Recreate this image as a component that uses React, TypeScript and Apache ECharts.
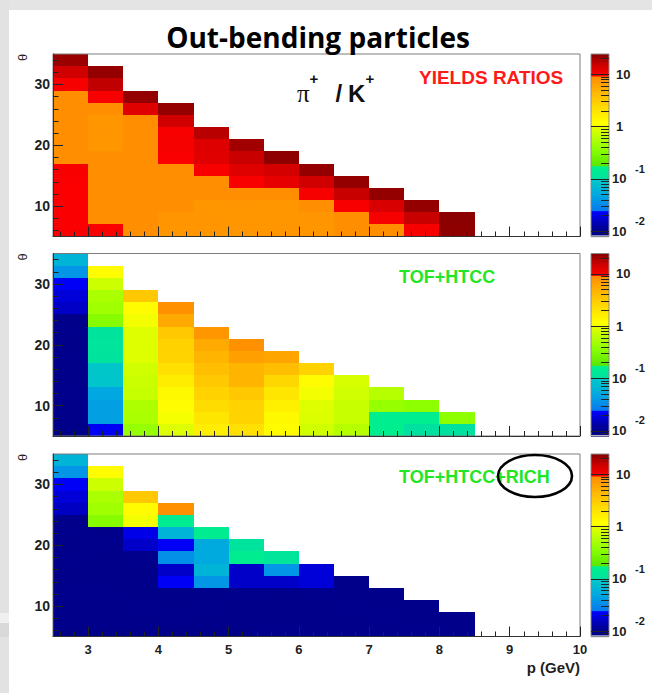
import React, { useEffect, useRef } from 'react';
import * as echarts from 'echarts';

// Binning of the (p, theta) histograms
const P_LOW = 2.5;
const P_HIGH = 10;
const P_BIN = 0.5;
const THETA_LOW = 5;
const THETA_HIGH = 35;
const THETA_BIN = 2;

// Axis tick positions
const P_LABELS = [3, 4, 5, 6, 7, 8, 9, 10];
const THETA_LABELS = [10, 20, 30];
const THETA_MINOR = [6, 8, 12, 14, 16, 18, 22, 24, 26, 28, 32, 34];
const Z_DECADES = [-2, -1, 0, 1];
const Z_PLAIN_LABELS = [0, 1];
const Z_POWER_LABELS = [-2, -1];

// log10 range of the colour (z) scale
const Z_LOG_MIN = -2.1;
const Z_LOG_MAX = 1.39;

// One inner array per momentum column (2.5-3, 3-3.5, ... 8-8.5 GeV),
// values listed from the lowest theta bin (5-7 deg) upward.
const yieldRatio = [
  [9.8, 9.9, 9.8, 9.7, 9.9, 10.0, 9.1, 9.2, 9.1, 9.1, 9.2, 9.1, 10.2, 15, 22],
  [9.9, 9.1, 9.2, 9.1, 9.1, 9.2, 9.1, 8.0, 8.1, 8.0, 9.1, 10.1, 17, 23],
  [9.1, 9.2, 9.1, 9.1, 9.2, 9.1, 9.2, 9.1, 9.1, 9.2, 13, 23],
  [8.0, 8.1, 9.1, 9.2, 9.1, 9.1, 9.9, 10.2, 10.0, 15, 23],
  [8.0, 8.1, 8.0, 9.1, 9.2, 10.0, 12.8, 13.2, 18],
  [8.0, 8.0, 8.1, 9.1, 10.1, 13, 16, 21],
  [8.1, 8.0, 8.0, 9.1, 12.2, 14.5, 24],
  [8.0, 8.1, 9.1, 10.2, 15, 23],
  [9.1, 9.2, 10.1, 16, 23],
  [9.1, 10.2, 14, 23],
  [10.3, 16, 23],
  [24, 24.5],
];

const tofHtcc = [
  [0.0092, 0.0095, 0.0094, 0.0096, 0.0093, 0.0095, 0.0097, 0.0094, 0.0096, 0.0095, 0.0166, 0.0188, 0.0235, 0.039, 0.065],
  [0.0235, 0.044, 0.045, 0.05, 0.094, 0.097, 0.113, 0.115, 0.114, 0.35, 0.47, 0.53, 0.78, 1.3],
  [0.42, 0.53, 0.55, 0.72, 0.76, 0.8, 0.94, 0.95, 0.95, 1.02, 1.3, 3.4],
  [0.95, 1.05, 1.3, 1.35, 1.7, 2.2, 2.8, 2.85, 3.4, 5.8, 8.8],
  [1.67, 1.95, 2.37, 2.85, 3.4, 4.1, 4.9, 5.8, 8.0],
  [2.2, 2.8, 2.85, 3.4, 4.8, 4.9, 6.8, 8.8],
  [1.3, 1.35, 1.6, 1.95, 2.6, 4.1, 6.3],
  [0.8, 0.93, 0.95, 1.02, 1.3, 2.85],
  [0.6, 0.74, 0.75, 0.8, 0.9],
  [0.17, 0.165, 0.42, 0.6],
  [0.103, 0.165, 0.38],
  [0.103, 0.38],
];

const tofHtccRich = [
  [0.0093, 0.0095, 0.0094, 0.0096, 0.0093, 0.0095, 0.0097, 0.0094, 0.0096, 0.0095, 0.0162, 0.0186, 0.0235, 0.039, 0.065],
  [0.0094, 0.0095, 0.0093, 0.0096, 0.0094, 0.0095, 0.0093, 0.0096, 0.0094, 0.35, 0.47, 0.53, 0.78, 1.3],
  [0.0095, 0.0094, 0.0096, 0.0093, 0.0095, 0.0094, 0.0096, 0.0168, 0.021, 1.02, 1.3, 3.4],
  [0.0094, 0.0096, 0.0095, 0.0093, 0.0235, 0.0168, 0.0355, 0.0235, 0.065, 0.155, 8.8],
  [0.0095, 0.0093, 0.0096, 0.0094, 0.0387, 0.065, 0.052, 0.052, 0.155],
  [0.0094, 0.0095, 0.0093, 0.0096, 0.0168, 0.0168, 0.155, 0.113],
  [0.0096, 0.0094, 0.0095, 0.0093, 0.0168, 0.0387, 0.12],
  [0.0093, 0.0095, 0.0094, 0.0096, 0.0188, 0.0188],
  [0.0095, 0.0094, 0.0096, 0.0093, 0.0095],
  [0.0094, 0.0096, 0.0093, 0.0095],
  [0.0096, 0.0094, 0.0095],
  [0.0095, 0.0094],
];

const PANELS = [yieldRatio, tofHtcc, tofHtccRich];

// Palette: piecewise gradients with jumps, position 0..1 along the z scale
const PALETTE_STOPS: [number, string][] = [
  [0.0, '#00007c'],
  [0.004, '#00007c'],
  [0.004, '#eef0ff'],
  [0.01, '#eef0ff'],
  [0.01, '#000084'],
  [0.06, '#0000a0'],
  [0.1, '#0000d0'],
  [0.142, '#0000ff'],
  [0.142, '#0a78f0'],
  [0.23, '#00a8e0'],
  [0.316, '#00c8c8'],
  [0.316, '#00e0a0'],
  [0.389, '#00f08c'],
  [0.389, '#5ae600'],
  [0.48, '#8cff00'],
  [0.599, '#e0ff00'],
  [0.599, '#f0ff00'],
  [0.625, '#ffff00'],
  [0.7, '#ffe000'],
  [0.8, '#ffb400'],
  [0.881, '#ff8c00'],
  [0.881, '#ff0000'],
  [0.94, '#d00000'],
  [1.0, '#8b0000'],
];

function hexToRgb(h: string): number[] {
  return [1, 3, 5].map((i) => parseInt(h.slice(i, i + 2), 16));
}

function paletteAt(t: number): string {
  for (let i = 0; i < PALETTE_STOPS.length - 1; i++) {
    const [t0, c0] = PALETTE_STOPS[i];
    const [t1, c1] = PALETTE_STOPS[i + 1];
    if (t1 > t0 && t >= t0 && t <= t1) {
      const f = (t - t0) / (t1 - t0);
      const a = hexToRgb(c0);
      const b = hexToRgb(c1);
      const rgb = a.map((v, k) => Math.round(v + (b[k] - v) * f));
      return `rgb(${rgb[0]},${rgb[1]},${rgb[2]})`;
    }
  }
  return PALETTE_STOPS[PALETTE_STOPS.length - 1][1];
}

const PALETTE_SAMPLES = 800;
const paletteColors: string[] = [];
for (let k = 0; k < PALETTE_SAMPLES; k++) paletteColors.push(paletteAt(k / (PALETTE_SAMPLES - 1)));

// Layout
const PLOT_LEFT = 53;
const PLOT_W = 527;
const BAR_LEFT = 591;
const BAR_W = 18;
const PANEL_TOPS = [54, 253.5, 454];
const PANEL_H = 182.5;
const EXPONENT_LIFT = 0.2; // exponent sits this many decades above its "10"
const EXPONENT_GAP = 26; // px from the colour bar's right edge

const ROOT_FONT = '"Liberation Sans", Arial, Helvetica, sans-serif';
const INK = '#1e1e1e';
const GREEN = '#22e622';

const P_MINOR: number[] = [];
for (let k = 13; k <= 49; k++) if (k % 5 !== 0) P_MINOR.push(+(k * 0.2).toFixed(1));

const Z_MINOR: number[] = [];
for (let n = -3; n <= 1; n++) {
  for (let k = 2; k <= 9; k++) {
    const v = n + Math.log10(k);
    if (v > Z_LOG_MIN + 0.01 && v < Z_LOG_MAX - 0.01) Z_MINOR.push(v);
  }
}

// axis indices of the colour-scale grids
const barXAxis = (i: number) => 2 * PANEL_TOPS.length + i;
const barYAxis = (i: number) => 2 * PANEL_TOPS.length + 2 * i;

function toCells(cols: number[][]) {
  const out: number[][] = [];
  cols.forEach((col, c) => {
    col.forEach((v, r) => {
      out.push([P_LOW + P_BIN * (c + 0.5), THETA_LOW + THETA_BIN * (r + 0.5), Math.log10(v)]);
    });
  });
  return out;
}

function renderCell(_params: any, api: any) {
  const x = api.value(0);
  const y = api.value(1);
  const a = api.coord([x - P_BIN / 2, y - THETA_BIN / 2]);
  const b = api.coord([x + P_BIN / 2, y + THETA_BIN / 2]);
  const x0 = Math.round(a[0]);
  const x1 = Math.round(b[0]);
  const y0 = Math.round(b[1]);
  const y1 = Math.round(a[1]);
  return {
    type: 'rect',
    shape: { x: x0, y: y0, width: x1 - x0, height: y1 - y0 },
    style: { fill: api.visual('color') },
  };
}

const BAR_STEPS = 700;
const barSlices: number[][] = [];
for (let k = 0; k < BAR_STEPS; k++) {
  const lo = Z_LOG_MIN + ((Z_LOG_MAX - Z_LOG_MIN) * k) / BAR_STEPS;
  const hi = Z_LOG_MIN + ((Z_LOG_MAX - Z_LOG_MIN) * (k + 1)) / BAR_STEPS;
  barSlices.push([lo, hi, (lo + hi) / 2]);
}

function renderSlice(_params: any, api: any) {
  const lo = api.value(0);
  const hi = api.value(1);
  const a = api.coord([0, lo]);
  const b = api.coord([1, hi]);
  const x0 = Math.min(a[0], b[0]);
  return {
    type: 'rect',
    shape: { x: x0, y: b[1], width: Math.abs(b[0] - a[0]), height: a[1] - b[1] + 0.6 },
    style: { fill: api.visual('color') },
  };
}

const barLabelFont = { fontFamily: ROOT_FONT, fontWeight: 'bold', color: INK };

function buildGraphic(exponents: any[]) {
  const thetaNames = PANEL_TOPS.map((top) => ({
    type: 'text', x: 22, y: top + 3.5, rotation: Math.PI / 2, z: 10,
    style: { text: 'θ', fontFamily: ROOT_FONT, fontSize: 13, fill: INK, align: 'center', verticalAlign: 'middle' },
  }));
  return [
    { type: 'rect', shape: { x: 0, y: 0, width: 652, height: 10 }, style: { fill: '#e4e4e4' }, z: 0 },
    { type: 'rect', shape: { x: 0, y: 0, width: 9, height: 693 }, style: { fill: '#e2e2e2' }, z: 0 },
    { type: 'rect', shape: { x: 0, y: 613, width: 9, height: 10 }, style: { fill: '#f0f0f0' }, z: 0 },
    { type: 'rect', shape: { x: 0, y: 623, width: 9, height: 14 }, style: { fill: '#d9d9d9' }, z: 0 },
    {
      type: 'text', x: 318, y: 37, z: 10,
      style: { text: 'Out-bending particles', fontFamily: '"Open Sans", Lato, sans-serif', fontWeight: 'bold', fontSize: 28, fill: '#000', align: 'center', verticalAlign: 'middle' },
    },
    ...thetaNames,
    {
      type: 'text', x: 297, y: 93, z: 10,
      style: {
        text: '{pi|π}{sp|+}{sl|/}{k|K}{sp|+}', align: 'left', verticalAlign: 'middle', fill: '#111',
        rich: {
          pi: { fontFamily: '"Liberation Serif", serif', fontSize: 25, fill: '#111' },
          sp: { fontFamily: ROOT_FONT, fontWeight: 'bold', fontSize: 15, lineHeight: 15, padding: [0, 0, 30, 0], fill: '#111' },
          sl: { fontFamily: ROOT_FONT, fontWeight: 'bold', fontSize: 24, padding: [0, 6, 0, 17], fill: '#111' },
          k: { fontFamily: ROOT_FONT, fontWeight: 'bold', fontSize: 24, fill: '#111' },
        },
      },
    },
    {
      type: 'text', x: 419, y: 77, z: 10,
      style: { text: 'YIELDS RATIOS', fontFamily: ROOT_FONT, fontWeight: 'bold', fontSize: 19, fill: '#ff1a1a', align: 'left', verticalAlign: 'middle' },
    },
    {
      type: 'text', x: 399, y: 277, z: 10,
      style: { text: 'TOF+HTCC', fontFamily: ROOT_FONT, fontWeight: 'bold', fontSize: 18, fill: GREEN, align: 'left', verticalAlign: 'middle' },
    },
    {
      type: 'text', x: 399, y: 477, z: 10,
      style: { text: 'TOF+HTCC+RICH', fontFamily: ROOT_FONT, fontWeight: 'bold', fontSize: 18, fill: GREEN, align: 'left', verticalAlign: 'middle' },
    },
    {
      type: 'ellipse', z: 11, shape: { cx: 535, cy: 476, rx: 37, ry: 21 },
      style: { fill: 'none', stroke: '#000', lineWidth: 2.6 },
    },
    {
      type: 'text', x: 580, y: 667, z: 10,
      style: { text: 'p (GeV)', fontFamily: ROOT_FONT, fontWeight: 'bold', fontSize: 15, fill: INK, align: 'right', verticalAlign: 'middle' },
    },
    ...exponents,
  ];
}

function buildOption() {
  const grid: any[] = [];
  const xAxis: any[] = [];
  const yAxis: any[] = [];
  const series: any[] = [];

  PANEL_TOPS.forEach((top) => {
    grid.push({
      left: PLOT_LEFT, top, width: PLOT_W, height: PANEL_H,
      show: true, borderColor: '#7c7c7c', borderWidth: 1, backgroundColor: 'rgba(0,0,0,0)',
      containLabel: false, outerBoundsMode: 'none', z: 3,
    });
  });
  PANEL_TOPS.forEach((top) => {
    grid.push({
      left: BAR_LEFT, top, width: BAR_W, height: PANEL_H,
      show: true, borderColor: '#8a8a8a', borderWidth: 1, backgroundColor: 'rgba(0,0,0,0)',
      containLabel: false, outerBoundsMode: 'none', z: 3,
    });
  });

  // Histogram axes: major ticks (with labels) and minor ticks on separate axes
  PANEL_TOPS.forEach((_top, i) => {
    const last = i === PANEL_TOPS.length - 1;
    xAxis.push({
      type: 'value', gridIndex: i, min: P_LOW, max: P_HIGH, position: 'bottom', z: 6,
      axisLine: { show: true, onZero: false, lineStyle: { color: '#333', width: 1 } },
      axisTick: { show: true, inside: true, length: 10, customValues: P_LABELS, lineStyle: { color: '#222' } },
      axisLabel: {
        show: last, customValues: P_LABELS, margin: 6, color: INK,
        fontFamily: ROOT_FONT, fontWeight: 'bold', fontSize: 13,
      },
      splitLine: { show: false },
    });
    xAxis.push({
      type: 'value', gridIndex: i, min: P_LOW, max: P_HIGH, position: 'bottom', z: 6,
      axisLine: { show: false, onZero: false },
      axisTick: { show: true, inside: true, length: 5, customValues: P_MINOR, lineStyle: { color: '#222' } },
      axisLabel: { show: false },
      splitLine: { show: false },
    });
    yAxis.push({
      type: 'value', gridIndex: i, min: THETA_LOW, max: THETA_HIGH, position: 'left', z: 6,
      axisLine: { show: true, onZero: false, lineStyle: { color: '#333', width: 1 } },
      axisTick: { show: true, inside: true, length: 10, customValues: THETA_LABELS, lineStyle: { color: '#222' } },
      axisLabel: {
        customValues: THETA_LABELS, margin: 3, color: INK,
        fontFamily: ROOT_FONT, fontWeight: 'bold', fontSize: 14,
      },
      splitLine: { show: false },
    });
    yAxis.push({
      type: 'value', gridIndex: i, min: THETA_LOW, max: THETA_HIGH, position: 'left', z: 6,
      axisLine: { show: false, onZero: false },
      axisTick: { show: true, inside: true, length: 5.5, customValues: THETA_MINOR, lineStyle: { color: '#222' } },
      axisLabel: { show: false },
      splitLine: { show: false },
    });
  });

  // Colour-scale axes (log10 units): decades with plain labels, minor ticks with "10" of the powers
  PANEL_TOPS.forEach((_top, i) => {
    const g = PANEL_TOPS.length + i;
    xAxis.push({
      type: 'value', gridIndex: g, min: 0, max: 1, position: 'bottom',
      axisLine: { show: false, onZero: false }, axisTick: { show: false }, axisLabel: { show: false },
      splitLine: { show: false },
    });
    const zBase = {
      type: 'value', gridIndex: g, min: Z_LOG_MIN, max: Z_LOG_MAX, position: 'right', z: 6,
      axisLine: { show: false, onZero: false },
      splitLine: { show: false },
    };
    yAxis.push({
      ...zBase,
      axisTick: { show: true, inside: true, length: BAR_W, customValues: Z_DECADES, lineStyle: { color: '#222' } },
      axisLabel: {
        ...barLabelFont, fontSize: 13, customValues: Z_PLAIN_LABELS, margin: 7,
        formatter: (v: number) => String(Math.round(Math.pow(10, v))),
      },
    });
    yAxis.push({
      ...zBase,
      axisTick: { show: true, inside: true, length: 8, customValues: Z_MINOR, lineStyle: { color: '#222' } },
      axisLabel: {
        ...barLabelFont, fontSize: 13, customValues: Z_POWER_LABELS, margin: 3,
        formatter: () => '10',
      },
    });
  });

  PANELS.forEach((cols, i) => {
    series.push({
      type: 'custom', name: `panel${i}`, xAxisIndex: 2 * i, yAxisIndex: 2 * i,
      renderItem: renderCell, data: toCells(cols), silent: true, z: 2,
    });
  });
  PANELS.forEach((_cols, i) => {
    series.push({
      type: 'custom', name: `scale${i}`, xAxisIndex: barXAxis(i), yAxisIndex: barYAxis(i),
      renderItem: renderSlice, data: barSlices, silent: true, z: 2,
    });
  });

  return {
    animation: false,
    backgroundColor: '#ffffff',
    grid,
    xAxis,
    yAxis,
    visualMap: {
      type: 'continuous', show: false, min: Z_LOG_MIN, max: Z_LOG_MAX, dimension: 2,
      seriesIndex: series.map((_s, i) => i),
      inRange: { color: paletteColors },
    },
    series,
    graphic: { elements: buildGraphic([]) },
  };
}

// Exponents of the "10^n" colour-scale labels, placed through the colour-scale axes
function exponentTexts(chart: echarts.ECharts) {
  const out: any[] = [];
  PANEL_TOPS.forEach((_top, i) => {
    const edge = chart.convertToPixel({ xAxisIndex: barXAxis(i) } as any, 1) as unknown as number;
    Z_POWER_LABELS.forEach((n) => {
      const y = chart.convertToPixel({ yAxisIndex: barYAxis(i) } as any, n + EXPONENT_LIFT) as unknown as number;
      out.push({
        type: 'text', x: edge + EXPONENT_GAP, y, z: 10,
        style: {
          text: String(n), fontFamily: ROOT_FONT, fontWeight: 'bold', fontSize: 11, fill: INK,
          align: 'left', verticalAlign: 'middle',
        },
      });
    });
  });
  return out;
}

export default function App() {
  const ref = useRef<HTMLDivElement>(null);
  useEffect(() => {
    if (!ref.current) return;
    const chart = echarts.init(ref.current, null, { renderer: 'svg' });
    chart.setOption(buildOption() as any);
    chart.setOption({ graphic: { elements: buildGraphic(exponentTexts(chart)) } } as any);
    return () => chart.dispose();
  }, []);
  return (
    <div
      ref={ref}
      style={{ position: 'absolute', left: 0, top: 0, width: 652, height: 693, background: '#fff' }}
    />
  );
}
